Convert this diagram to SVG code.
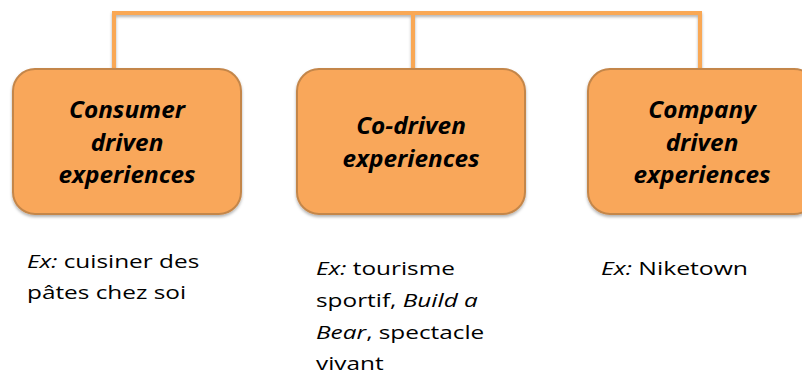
<svg xmlns="http://www.w3.org/2000/svg" width="802" height="376" viewBox="0 0 802 376">
<defs>
<filter id="sh" x="-10%" y="-10%" width="130%" height="130%">
<feDropShadow dx="0" dy="2" stdDeviation="1.5" flood-color="#000" flood-opacity="0.3"/>
</filter>
<style>
.box{fill:#F9A75A;stroke:#C4864A;stroke-width:2;filter:url(#sh)}
.con{fill:none;stroke:#F9A855;stroke-width:4;filter:url(#sh)}
.bt{font-family:"Open Sans","Liberation Sans",sans-serif;font-weight:bold;font-style:italic;font-size:23px;fill:#000;text-anchor:middle}
.ex{font-family:"Open Sans","Liberation Sans",sans-serif;font-size:18.6px;fill:#000}
.i{font-style:italic}
</style>
</defs>
<rect width="802" height="376" fill="#fff"/>
<g id="connectors">
<path class="con" d="M114,69 V13 H700 V69 M413,13 V69"/>
</g>
<g id="consumer">
<rect class="box" x="13" y="69" width="228" height="145" rx="22"/>
<g transform="translate(127,0) scale(1.06,1)">
<text class="bt" x="0" y="118">Consumer</text>
<text class="bt" x="0" y="151">driven</text>
<text class="bt" x="0" y="183">experiences</text>
</g>
</g>
<g id="codriven">
<rect class="box" x="297" y="69" width="228" height="145" rx="22"/>
<g transform="translate(411,0) scale(1.06,1)">
<text class="bt" x="0" y="134">Co-driven</text>
<text class="bt" x="0" y="167">experiences</text>
</g>
</g>
<g id="company">
<rect class="box" x="588" y="69" width="228" height="145" rx="22"/>
<g transform="translate(702,0) scale(1.06,1)">
<text class="bt" x="0" y="118">Company</text>
<text class="bt" x="0" y="151">driven</text>
<text class="bt" x="0" y="183">experiences</text>
</g>
</g>
<g id="ex1" transform="translate(27,0) scale(1.31,1)">
<text class="ex" x="0" y="268"><tspan class="i">Ex:</tspan> cuisiner des</text>
<text class="ex" x="0" y="299">pâtes chez soi</text>
</g>
<g id="ex2" transform="translate(316,0) scale(1.31,1)">
<text class="ex" x="0" y="275"><tspan class="i">Ex:</tspan> tourisme</text>
<text class="ex" x="0" y="307">sportif, <tspan class="i">Build a</tspan></text>
<text class="ex" x="0" y="339"><tspan class="i">Bear</tspan>, spectacle</text>
<text class="ex" x="0" y="370">vivant</text>
</g>
<g id="ex3" transform="translate(601,0) scale(1.33,1)">
<text class="ex" x="0" y="275"><tspan class="i">Ex:</tspan> Niketown</text>
</g>
</svg>
